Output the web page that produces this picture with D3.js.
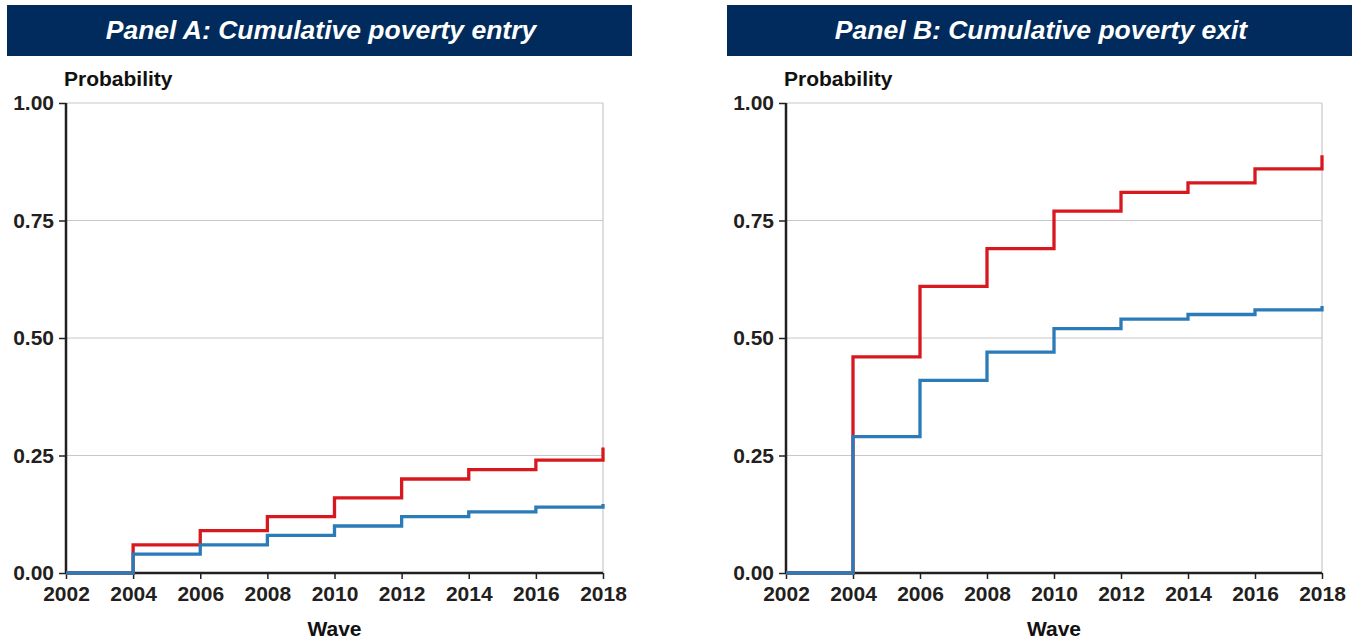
<!DOCTYPE html>
<html><head><meta charset="utf-8">
<script src="https://cdn.jsdelivr.net/npm/d3@7"></script>
<style>body{margin:0;background:#fff;} text{font-family:"Liberation Sans",Arial,sans-serif;}</style>
</head><body>
<svg id="c" width="1359" height="639"></svg>
<script>
const waves = [2002, 2004, 2006, 2008, 2010, 2012, 2014, 2016, 2018];
const yTicks = [0, 0.25, 0.5, 0.75, 1.0];
const panelTitles = ["Panel A: Cumulative poverty entry", "Panel B: Cumulative poverty exit"];
const entryRed  = [0, 0.06, 0.09, 0.12, 0.16, 0.20, 0.22, 0.24, 0.267];
const entryBlue = [0, 0.04, 0.06, 0.08, 0.10, 0.12, 0.13, 0.14, 0.147];
const exitRed   = [0, 0.46, 0.61, 0.69, 0.77, 0.81, 0.83, 0.86, 0.889];
const exitBlue  = [0, 0.29, 0.41, 0.47, 0.52, 0.54, 0.55, 0.56, 0.568];

const svg = d3.select("#c");
const panels = [
  {title: panelTitles[0], x0: 66, x1: 603, bx: 7, red: entryRed, blue: entryBlue},
  {title: panelTitles[1], x0: 786, x1: 1322, bx: 727, red: exitRed, blue: exitBlue}
];
const yTop = 103, yBot = 573;
const FONT = '"Liberation Sans",Arial,sans-serif';
panels.forEach(p => {
  const g = svg.append("g");
  g.append("rect").attr("x", p.bx).attr("y", 5).attr("width", 625).attr("height", 51).attr("fill", "#002b5c");
  g.append("text").attr("x", p.bx + 314).attr("y", 39).attr("text-anchor", "middle")
    .attr("fill", "#fff").attr("font-size", 26.5).attr("font-weight", "bold").attr("font-style", "italic").text(p.title);
  const x = d3.scaleLinear().domain([2002, 2018]).range([p.x0, p.x1]);
  const y = d3.scaleLinear().domain([0, 1]).range([yBot, yTop]);
  // gridlines
  g.selectAll(".grid").data(yTicks.filter(t => t > 0)).join("line")
    .attr("x1", p.x0).attr("x2", p.x1).attr("y1", d => y(d)).attr("y2", d => y(d))
    .attr("stroke", "#c8c8c8").attr("stroke-width", 1.2);
  g.append("line").attr("x1", p.x1).attr("x2", p.x1).attr("y1", yTop).attr("y2", yBot)
    .attr("stroke", "#c8c8c8").attr("stroke-width", 1.2);
  // axes
  const ya = g.append("g").attr("transform", `translate(${p.x0},0)`)
    .call(d3.axisLeft(y).tickValues(yTicks).tickFormat(d3.format(".2f")).tickSize(7).tickPadding(5));
  const xa = g.append("g").attr("transform", `translate(0,${yBot})`)
    .call(d3.axisBottom(x).tickValues(waves).tickFormat(d3.format("d")).tickSize(6).tickPadding(7));
  [ya, xa].forEach(a => {
    a.select(".domain").attr("stroke", "#231f20").attr("stroke-width", 2.5);
    a.selectAll(".tick line").attr("stroke", "#231f20").attr("stroke-width", 1.5);
    a.selectAll("text").attr("font-size", 21).attr("font-weight", "bold").attr("fill", "#231f20")
      .style("font-family", FONT);
  });
  xa.select(".domain").attr("d", `M${p.x0},0H${p.x1}`);
  ya.select(".domain").attr("d", `M0,${yTop}V${yBot}`);
  // lines on top of axes
  const line = d3.line().x((d, i) => x(waves[i])).y(d => y(d)).curve(d3.curveStepAfter);
  g.append("path").datum(p.red).attr("d", line).attr("fill", "none").attr("stroke", "#d7191f").attr("stroke-width", 3.3);
  g.append("path").datum(p.blue).attr("d", line).attr("fill", "none").attr("stroke", "#2b7bb9").attr("stroke-width", 3.3);
  g.append("text").attr("x", p.x0 - 2).attr("y", 86).attr("font-size", 21).attr("font-weight", "bold").attr("fill", "#111").text("Probability");
  g.append("text").attr("x", (p.x0 + p.x1) / 2).attr("y", 636).attr("text-anchor", "middle")
    .attr("font-size", 21).attr("font-weight", "bold").attr("fill", "#111").text("Wave");
});
</script>
</body></html>
